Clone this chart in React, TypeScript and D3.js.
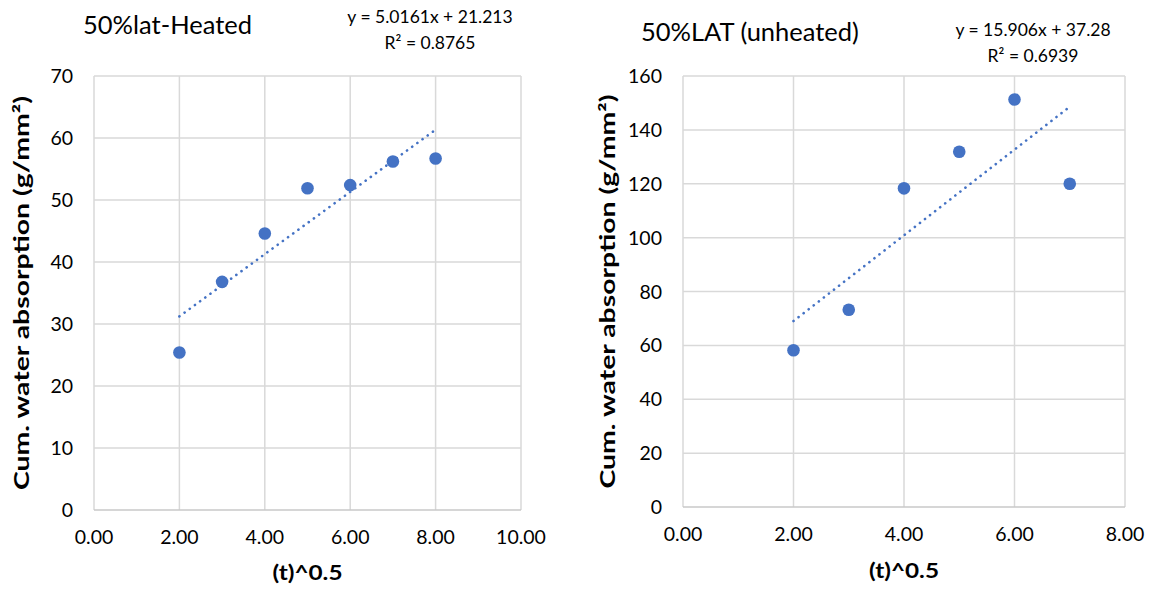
import React, { useEffect, useRef } from "react";
import * as d3 from "d3";

// 50%lat-Heated
const heatedX = [2, 3, 4, 5, 6, 7, 8];
const heatedY = [25.4, 36.8, 44.6, 51.9, 52.4, 56.2, 56.7];
const heatedXTicks = [0, 2, 4, 6, 8, 10];
const heatedYTicks = [0, 10, 20, 30, 40, 50, 60, 70];
const heatedEq = ["y = 5.0161x + 21.213", "R² = 0.8765"];

// 50%LAT (unheated)
const unheatedX = [2, 3, 4, 5, 6, 7];
const unheatedY = [58.2, 73.2, 118.3, 131.9, 151.3, 120.0];
const unheatedXTicks = [0, 2, 4, 6, 8];
const unheatedYTicks = [0, 20, 40, 60, 80, 100, 120, 140, 160];
const unheatedEq = ["y = 15.906x + 37.28", "R² = 0.6939"];

const yTitle = "Cum. water absorption (g/mm²)";
const xTitle = "(t)^0.5";

const FONT = "Lato, 'Open Sans', sans-serif";
const BLUE = "#4472C4";

// least squares fit for the trendline
function fit(xs, ys) {
  const mx = d3.mean(xs), my = d3.mean(ys);
  let num = 0, den = 0;
  xs.forEach((v, i) => { num += (v - mx) * (ys[i] - my); den += (v - mx) * (v - mx); });
  const m = num / den;
  return { m, b: my - m * mx };
}

function drawChart(svg, cfg) {
  const g = svg.append("g");
  const x = d3.scaleLinear().domain(d3.extent(cfg.xTicks)).range([cfg.left, cfg.right]);
  const y = d3.scaleLinear().domain(d3.extent(cfg.yTicks)).range([cfg.bottom, cfg.top]);

  // grid
  g.selectAll(".vgrid").data(cfg.xTicks).join("line")
    .attr("x1", d => x(d)).attr("x2", d => x(d))
    .attr("y1", cfg.top).attr("y2", cfg.bottom)
    .attr("stroke", "#d9d9d9").attr("stroke-width", 1.5);
  g.selectAll(".hgrid").data(cfg.yTicks).join("line")
    .attr("x1", cfg.left).attr("x2", cfg.right)
    .attr("y1", d => y(d)).attr("y2", d => y(d))
    .attr("stroke", d => d === 0 ? "#c8c8c8" : "#d9d9d9").attr("stroke-width", 1.5);

  // tick labels
  g.selectAll(".xl").data(cfg.xTicks).join("text")
    .attr("x", d => x(d)).attr("y", cfg.bottom + 34)
    .attr("text-anchor", "middle")
    .style("font", `19.5px ${FONT}`).attr("fill", "#000")
    .text(d => d3.format(".2f")(d));
  g.selectAll(".yl").data(cfg.yTicks).join("text")
    .attr("x", cfg.left - 21).attr("y", d => y(d)).attr("dy", "0.36em")
    .attr("text-anchor", "end")
    .style("font", `19.5px ${FONT}`).attr("fill", "#000")
    .text(d => d);

  // trendline
  const { m, b } = fit(cfg.xs, cfg.ys);
  const [x0, x1] = d3.extent(cfg.xs);
  g.append("line")
    .attr("x1", x(x0)).attr("y1", y(m * x0 + b))
    .attr("x2", x(x1)).attr("y2", y(m * x1 + b))
    .attr("stroke", BLUE).attr("stroke-width", 2.6)
    .attr("stroke-linecap", "round").attr("stroke-dasharray", "0.1 6.3");

  // points
  g.selectAll(".pt").data(cfg.xs).join("circle")
    .attr("cx", d => x(d)).attr("cy", (d, i) => y(cfg.ys[i]))
    .attr("r", 6.3).attr("fill", BLUE);

  // titles
  g.append("text").attr("x", cfg.titleX).attr("y", cfg.titleY)
    .style("font", `25.5px ${FONT}`).attr("fill", "#000").text(cfg.title);
  g.selectAll(".eq").data(cfg.eq).join("text")
    .attr("x", cfg.eqX).attr("y", (d, i) => cfg.eqY + i * 26)
    .attr("text-anchor", "middle")
    .style("font", `17.5px ${FONT}`).attr("fill", "#000").text(d => d);

  g.append("text")
    .attr("transform", `translate(${cfg.yTitleX}, ${(cfg.top + cfg.bottom) / 2}) rotate(-90)`)
    .attr("text-anchor", "middle").attr("dy", "0.35em")
    .attr("textLength", 394).attr("lengthAdjust", "spacingAndGlyphs")
    .style("font", `bold 21px ${FONT}`).attr("fill", "#000").text(yTitle);
  g.append("text")
    .attr("x", (cfg.left + cfg.right) / 2).attr("y", cfg.xTitleY)
    .attr("text-anchor", "middle")
    .attr("textLength", 70).attr("lengthAdjust", "spacingAndGlyphs")
    .style("font", `bold 21px ${FONT}`).attr("fill", "#000").text(xTitle);
}

export default function App() {
  const ref = useRef(null);

  useEffect(() => {
    const svg = d3.select(ref.current);
    svg.selectAll("*").remove();
    svg.append("rect").attr("width", 1159).attr("height", 589).attr("fill", "#fff");

    drawChart(svg, {
      xs: heatedX, ys: heatedY, xTicks: heatedXTicks, yTicks: heatedYTicks,
      left: 94, right: 521, top: 76, bottom: 510,
      title: "50%lat-Heated", titleX: 83, titleY: 34,
      eq: heatedEq, eqX: 430, eqY: 23,
      yTitleX: 22, xTitleY: 580,
    });
    drawChart(svg, {
      xs: unheatedX, ys: unheatedY, xTicks: unheatedXTicks, yTicks: unheatedYTicks,
      left: 683, right: 1125, top: 76, bottom: 507,
      title: "50%LAT (unheated)", titleX: 641, titleY: 41,
      eq: unheatedEq, eqX: 1033, eqY: 36,
      yTitleX: 608, xTitleY: 578,
    });
  }, []);

  return (
    <svg ref={ref} width={1159} height={589}
      style={{ position: "absolute", left: 0, top: 0, display: "block" }} />
  );
}
